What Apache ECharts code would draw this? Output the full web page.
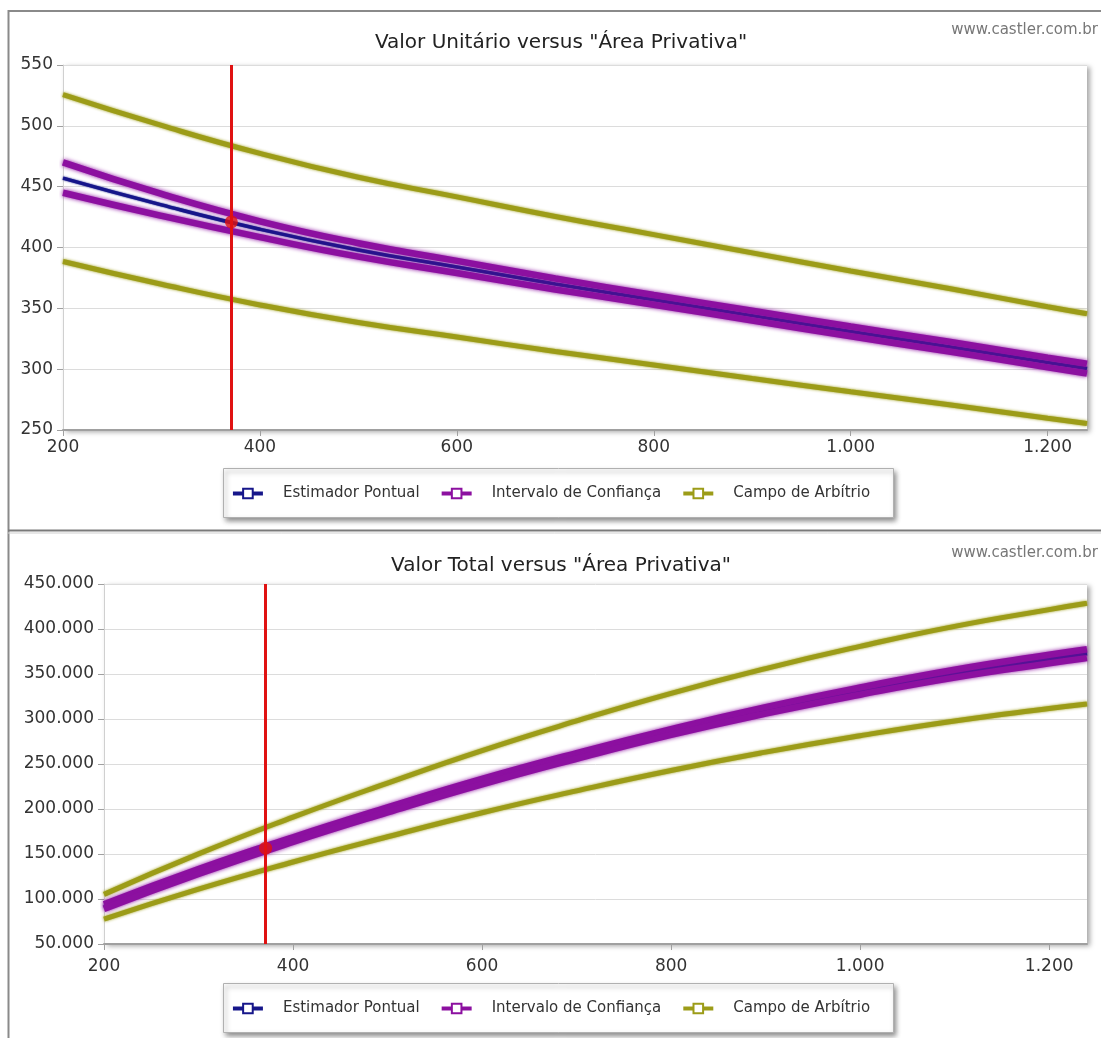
<!DOCTYPE html>
<html>
<head>
<meta charset="utf-8">
<script src="https://cdn.jsdelivr.net/npm/echarts@6/dist/echarts.min.js"></script>
<style>
html,body{margin:0;padding:0;background:#fff;}
#c{width:1101px;height:1038px;}
</style>
</head>
<body>
<div id="c"></div>
<script>
// ---- data ----
const areas = [200, 300, 400, 500, 600, 700, 800, 900, 1000, 1100, 1200, 1240];

const unitEstimador = [457, 435, 415, 398, 384, 370, 357, 344, 331, 318.5, 305.5, 300.5];
const unitConfSup   = [470, 444, 421.5, 403.5, 389, 374.5, 361, 348, 335, 322.5, 309.5, 304.5];
const unitConfInf   = [445, 426, 408.5, 392.5, 379, 365.5, 353, 340, 327, 314.5, 301.5, 296.5];
const unitCampoSup  = [525.6, 500.3, 477.3, 457.7, 441.6, 425.5, 410.6, 395.6, 380.7, 366.3, 351.3, 345.6];
const unitCampoInf  = [388.5, 369.8, 352.8, 338.3, 326.4, 314.5, 303.5, 292.4, 281.4, 270.7, 259.7, 255.4];

const totalEstimador = [91400, 130500, 166000, 199000, 230400, 259000, 285600, 309600, 331000, 350350, 366600, 372620];
const totalConfSup   = [94000, 133200, 168600, 201750, 233400, 262150, 288800, 313200, 335000, 354750, 371400, 377580];
const totalConfInf   = [89000, 127800, 163400, 196250, 227400, 255850, 282400, 306000, 327000, 345950, 361800, 367660];
const totalCampoSup  = [105120, 150090, 190920, 228850, 264960, 297850, 328480, 356040, 380700, 402930, 421560, 428540];
const totalCampoInf  = [77700, 110940, 141120, 169150, 195840, 220150, 242800, 263160, 281400, 297770, 311640, 316700];

const areaAvaliando = 371;
const unitAvaliando = 421;
const totalAvaliando = 156500;

const titles = ['Valor Unitário versus "Área Privativa"', 'Valor Total versus "Área Privativa"'];
const legendNames = ['Estimador Pontual', 'Intervalo de Confiança', 'Campo de Arbítrio'];
const watermark = 'www.castler.com.br';

// ---- styling ----
const FONT = 'DejaVu Sans';
const C_EST = '#16168a';
const C_CONF = '#8c10a0';
const C_CAMPO = '#9c9c18';
const C_RED = '#e01212';

function fmt(v){ return String(v).replace(/\B(?=(\d{3})+(?!\d))/g, '.'); }
function pairs(xs, ys){ return xs.map((x,i)=>[x, ys[i]]); }

function lineSeries(name, color, data, idx, z, width, blur){
  return {
    type:'line', name:name, xAxisIndex:idx, yAxisIndex:idx, data:data,
    smooth:true, showSymbol:false, symbol:'emptyRect', symbolSize:10,
    z:z,
    lineStyle:{color:color, width:width, shadowColor:color, shadowBlur:blur},
    itemStyle:{color:color, borderColor:color, borderWidth:2},
    emphasis:{disabled:true}
  };
}

function seriesFor(idx, est, cs, ci, ps, pi, ptX, ptY){
  const s = [];
  const e = lineSeries(legendNames[0], C_EST, pairs(areas, est), idx, 3, 3.5, 2);
  e.markLine = {
    silent:true, symbol:['none','none'], label:{show:false},
    lineStyle:{color:C_RED, width:3, type:'solid'},
    data:[{xAxis:ptX}], z:6
  };
  s.push(e);
  s.push(lineSeries(legendNames[1], C_CONF, pairs(areas, cs), idx, 4, 6.5, 4));
  s.push(lineSeries(legendNames[1], C_CONF, pairs(areas, ci), idx, 4, 6.5, 4));
  s.push(lineSeries(legendNames[2], C_CAMPO, pairs(areas, ps), idx, 2, 5, 3));
  s.push(lineSeries(legendNames[2], C_CAMPO, pairs(areas, pi), idx, 2, 5, 3));
  s.push({
    type:'scatter', xAxisIndex:idx, yAxisIndex:idx, data:[[ptX, ptY]],
    symbol:'circle', symbolSize:13, z:10,
    itemStyle:{color:C_RED}, silent:true
  });
  return s;
}

const gridBase = {
  show:true, backgroundColor:'#fff', borderWidth:0,
  shadowColor:'rgba(0,0,0,0.35)', shadowBlur:5, shadowOffsetX:3, shadowOffsetY:2
};

function xAxisFor(idx, margin){
  return {
    type:'value', gridIndex:idx, min:200, max:1240, interval:200,
    axisLine:{show:true, lineStyle:{color:'#a0a0a0', width:2}},
    axisTick:{show:true, length:6, lineStyle:{color:'#a0a0a0'}},
    axisLabel:{color:'#333', fontFamily:FONT, fontSize:17, margin:margin, showMaxLabel:false, formatter:fmt},
    splitLine:{show:false}
  };
}
function yAxisFor(idx, min, max, interval){
  return {
    type:'value', gridIndex:idx, min:min, max:max, interval:interval,
    axisLine:{show:true, lineStyle:{color:'#d0d0d0', width:1}},
    axisTick:{show:true, length:6, lineStyle:{color:'#a0a0a0'}},
    axisLabel:{color:'#333', fontFamily:FONT, fontSize:17, margin:10, formatter:fmt},
    splitLine:{show:true, lineStyle:{color:'#dcdcdc', width:1}}
  };
}

function legendFor(top){
  return {
    data:legendNames, left:'center', top:top, orient:'horizontal',
    itemWidth:30, itemHeight:12, itemGap:20,
    lineStyle:{width:4},
    textStyle:{color:'#333', fontFamily:FONT, fontSize:15, padding:[0,0,0,15]},
    selectedMode:false
  };
}

function legendBox(y){
  return {
    type:'rect', left:223, top:y, z:-1,
    shape:{width:670, height:49},
    style:{fill:'#fff', stroke:'#b0b0b0', lineWidth:1,
      shadowColor:'rgba(0,0,0,0.45)', shadowBlur:5, shadowOffsetX:2, shadowOffsetY:3}
  };
}

const chart = echarts.init(document.getElementById('c'), null, {renderer:'canvas'});
chart.setOption({
  animation:false,
  backgroundColor:'#fff',
  title:[
    {text:titles[0], left:556, textAlign:'center', top:28, textStyle:{fontFamily:FONT, fontSize:20, fontWeight:'normal', color:'#222'}},
    {text:titles[1], left:556, textAlign:'center', top:551, textStyle:{fontFamily:FONT, fontSize:20, fontWeight:'normal', color:'#222'}}
  ],
  legend:[legendFor(481), legendFor(996)],
  grid:[
    Object.assign({left:63, top:65, right:14, height:365}, gridBase),
    Object.assign({left:104, top:584, right:14, height:360}, gridBase)
  ],
  xAxis:[xAxisFor(0, 9), xAxisFor(1, 14)],
  yAxis:[yAxisFor(0, 250, 550, 50), yAxisFor(1, 50000, 450000, 50000)],
  series:[].concat(
    seriesFor(0, unitEstimador, unitConfSup, unitConfInf, unitCampoSup, unitCampoInf, areaAvaliando, unitAvaliando),
    seriesFor(1, totalEstimador, totalConfSup, totalConfInf, totalCampoSup, totalCampoInf, areaAvaliando, totalAvaliando)
  ),
  graphic:[
    legendBox(468),
    legendBox(983),
    {type:'text', right:3, top:23, style:{text:watermark, fill:'#777', font:'15px "DejaVu Sans"'}},
    {type:'text', right:3, top:546, style:{text:watermark, fill:'#777', font:'15px "DejaVu Sans"'}},
    {type:'line', shape:{x1:8.5, y1:10, x2:8.5, y2:1038}, style:{stroke:'#8a8a8a', lineWidth:2}},
    {type:'line', shape:{x1:8, y1:11, x2:1101, y2:11}, style:{stroke:'#8a8a8a', lineWidth:2}},
    {type:'line', shape:{x1:8, y1:530.5, x2:1101, y2:530.5}, style:{stroke:'#7a7a7a', lineWidth:2}},
    {type:'line', shape:{x1:8, y1:533, x2:1101, y2:533}, style:{stroke:'#cfcfcf', lineWidth:1}}
  ]
});
</script>
</body>
</html>
